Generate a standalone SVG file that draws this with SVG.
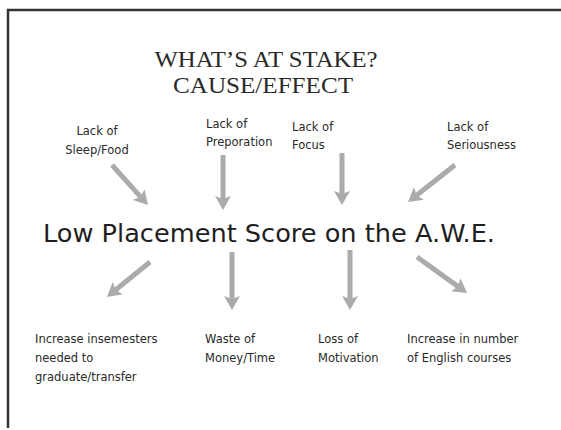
<svg xmlns="http://www.w3.org/2000/svg" width="561" height="430" viewBox="0 0 561 430">
<style>
.title{font-family:"Liberation Serif",serif;font-size:22.5px;fill:#2a2a2a;text-anchor:middle}
.main{font-family:"DejaVu Sans",sans-serif;font-size:24px;fill:#1e1e1e}
.lbl{font-family:"DejaVu Sans",sans-serif;font-size:11.5px;fill:#2a2a2a}
.arr{stroke:#ababab;stroke-width:5;fill:none;marker-end:url(#head)}
</style>
<defs>
<marker id="head" viewBox="0 -8 14 16" refX="3" refY="0" markerWidth="14" markerHeight="16" markerUnits="userSpaceOnUse" orient="auto">
<path d="M0,-8 L14,0 L0,8 L3,0 z" fill="#ababab"/>
</marker>
</defs>
<rect width="561" height="430" fill="#fff"/>
<g id="frame" stroke="#333" stroke-width="2.5" fill="none">
<path d="M8,428 L8,10 L561,10"/>
</g>
<g id="title">
<text class="title" x="266" y="67" textLength="223" lengthAdjust="spacingAndGlyphs">WHAT’S AT STAKE?</text>
<text class="title" x="263" y="93" textLength="180" lengthAdjust="spacingAndGlyphs">CAUSE/EFFECT</text>
</g>
<g id="cause-sleep">
<text class="lbl" x="97" y="135" text-anchor="middle">Lack of</text>
<text class="lbl" x="97" y="154" text-anchor="middle">Sleep/Food</text>
</g>
<g id="cause-preparation">
<text class="lbl" x="206" y="128">Lack of</text>
<text class="lbl" x="206" y="146">Preporation</text>
</g>
<g id="cause-focus">
<text class="lbl" x="292" y="131">Lack of</text>
<text class="lbl" x="292" y="149">Focus</text>
</g>
<g id="cause-seriousness">
<text class="lbl" x="447" y="131">Lack of</text>
<text class="lbl" x="447" y="149">Seriousness</text>
</g>
<g id="center">
<text class="main" x="43" y="242" textLength="452" lengthAdjust="spacingAndGlyphs">Low Placement Score on the A.W.E.</text>
</g>
<g id="effect-semesters">
<text class="lbl" x="35" y="343">Increase insemesters</text>
<text class="lbl" x="35" y="362">needed to</text>
<text class="lbl" x="35" y="381">graduate/transfer</text>
</g>
<g id="effect-money">
<text class="lbl" x="205" y="343">Waste of</text>
<text class="lbl" x="205" y="362">Money/Time</text>
</g>
<g id="effect-motivation">
<text class="lbl" x="318" y="343">Loss of</text>
<text class="lbl" x="318" y="362">Motivation</text>
</g>
<g id="effect-courses">
<text class="lbl" x="407" y="343">Increase in number</text>
<text class="lbl" x="407" y="362">of English courses</text>
</g>
<g id="connectors">
<line class="arr" x1="112" y1="165" x2="140.6" y2="196.8"/>
<line class="arr" x1="223" y1="155" x2="223" y2="199"/>
<line class="arr" x1="342" y1="153" x2="342" y2="194"/>
<line class="arr" x1="455" y1="165" x2="416.6" y2="195.2"/>
<line class="arr" x1="150" y1="262" x2="115.5" y2="290"/>
<line class="arr" x1="232" y1="252" x2="232" y2="299"/>
<line class="arr" x1="350" y1="250" x2="350" y2="299"/>
<line class="arr" x1="417" y1="257" x2="458.1" y2="286.6"/>
</g>
</svg>
